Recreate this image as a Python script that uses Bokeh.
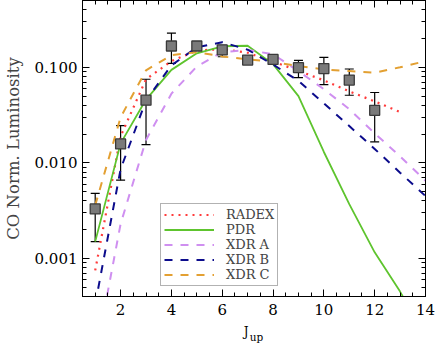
from bokeh.plotting import figure
from bokeh.models import (ColumnDataSource, Whisker, TeeHead, LogAxis, LinearAxis,
                          FixedTicker, CustomJSTickFormatter, Legend, LegendItem, Range1d)
from bokeh.embed import file_html
from bokeh.resources import INLINE

# observed CO SLED
J_obs = [1, 2, 3, 4, 5, 6, 7, 8, 9, 10, 11, 12]
L_obs = [0.0033, 0.0158, 0.0453, 0.167, 0.167, 0.152, 0.119, 0.121, 0.099, 0.097, 0.0735, 0.0355]
L_hi = [0.0048, 0.0245, 0.075, 0.228, 0.172, 0.170, 0.130, 0.126, 0.118, 0.127, 0.096, 0.0545]
L_lo = [0.0015, 0.0066, 0.0155, 0.110, 0.162, 0.129, 0.107, 0.116, 0.078, 0.066, 0.051, 0.0166]

# models
J_radex = [1, 2, 3, 4, 5, 6, 7, 8, 9, 10, 11, 12, 13]
radex = [0.00075, 0.019, 0.075, 0.116, 0.150, 0.155, 0.142, 0.115, 0.092, 0.073, 0.056, 0.044, 0.034]
J_mod = [1, 2, 3, 4, 5, 6, 7, 8, 9, 10, 11, 12, 13, 14]
pdr = [0.0015, 0.016, 0.046, 0.094, 0.140, 0.166, 0.168, 0.108, 0.050, 0.013, 0.0037, 0.00116, 0.00045, 0.00015]
xdr_a = [0.00009, 0.0023, 0.0174, 0.053, 0.102, 0.144, 0.152, 0.137, 0.091, 0.059, 0.0365, 0.0204, 0.0117, 0.0065]
xdr_b = [0.00033, 0.0086, 0.045, 0.105, 0.162, 0.183, 0.153, 0.107, 0.072, 0.042, 0.0243, 0.0140, 0.0079, 0.0045]
xdr_c = [0.0036, 0.030, 0.093, 0.134, 0.144, 0.130, 0.121, 0.114, 0.103, 0.095, 0.0915, 0.088, 0.100, 0.116]

x_major = [2, 4, 6, 8, 10, 12, 14]
y_major = [0.001, 0.01, 0.1]
y_labels = {0.001: "0.001", 0.01: "0.010", 0.1: "0.100"}

FONT = "DejaVu Serif"

p = figure(width=436, height=346, output_backend="svg", toolbar_location=None,
           y_axis_type="log", x_range=Range1d(0.5, 14), y_range=Range1d(0.0004, 0.5),
           min_border_left=78, min_border_right=11, min_border_top=0, min_border_bottom=50)
p.grid.visible = False
p.outline_line_color = "black"
p.background_fill_color = "white"
p.border_fill_color = "white"

x_minor = [v / 2 for v in range(1, 29)]
y_minor = [m * 10.0 ** e for e in range(-4, 0) for m in range(2, 10)]

xt = FixedTicker(ticks=x_major, minor_ticks=x_minor)
yt = FixedTicker(ticks=y_major, minor_ticks=y_minor)

def style_axis(ax, show_labels):
    ax.major_tick_in = 7
    ax.major_tick_out = 0
    ax.minor_tick_in = 4
    ax.minor_tick_out = 0
    ax.axis_line_color = "black"
    ax.major_tick_line_color = "black"
    ax.minor_tick_line_color = "black"
    ax.major_label_text_font = FONT
    ax.major_label_text_font_size = "15px"
    ax.major_label_text_color = "black"
    if not show_labels:
        ax.formatter = CustomJSTickFormatter(code="return '';")
        ax.major_label_standoff = 0

xa = p.xaxis[0]
xa.ticker = xt
style_axis(xa, True)
xa.major_label_standoff = 7

ya = p.yaxis[0]
ya.ticker = yt
ya.major_label_overrides = y_labels
style_axis(ya, True)
ya.major_label_standoff = 5
ya.axis_label = "CO Norm. Luminosity"
ya.axis_label_text_font = FONT
ya.axis_label_text_font_size = "16.5px"
ya.axis_label_text_font_style = "normal"
ya.axis_label_standoff = 9

top = LinearAxis(ticker=xt)
style_axis(top, False)
p.add_layout(top, "above")
right = LogAxis(ticker=yt)
style_axis(right, False)
p.add_layout(right, "right")

# x-axis title "J_up": J and the subscript as label-only axes below the main one
def label_axis(pos, text, size, standoff):
    ax = LinearAxis(ticker=FixedTicker(ticks=[pos], minor_ticks=[]),
                    formatter=CustomJSTickFormatter(code="return '%s';" % text))
    ax.axis_line_color = None
    ax.major_tick_line_color = None
    ax.minor_tick_line_color = None
    ax.major_tick_in = 0
    ax.major_tick_out = 0
    ax.minor_tick_in = 0
    ax.minor_tick_out = 0
    ax.major_label_text_font = FONT
    ax.major_label_text_font_size = size
    ax.major_label_text_color = "black"
    ax.major_label_standoff = standoff
    p.add_layout(ax, "below")

label_axis(6.94, "J", "12px", 7)
label_axis(7.35, "up", "10.5px", -11)

# error bars
obs = ColumnDataSource(dict(x=J_obs, y=L_obs, upper=L_hi, lower=L_lo))
wh = Whisker(base="x", upper="upper", lower="lower", source=obs, level="underlay",
             line_color="black", line_width=1.2,
             upper_head=TeeHead(size=9, line_color="black", line_width=1.2),
             lower_head=TeeHead(size=9, line_color="black", line_width=1.2))
p.add_layout(wh)

r_radex = p.line(J_radex, radex, line_color="#ff3b3b", line_width=2.2, line_dash="2 5")
r_pdr = p.line(J_mod, pdr, line_color="#5ec42e", line_width=1.8)
r_a = p.line(J_mod, xdr_a, line_color="#cf8ff0", line_width=2, line_dash="8 8")
r_b = p.line(J_mod, xdr_b, line_color="#0c0c8c", line_width=2, line_dash="8 8")
r_c = p.line(J_mod, xdr_c, line_color="#e3a032", line_width=2, line_dash="8 8")

p.scatter("x", "y", source=obs, marker="square", size=10, fill_color="#7a7a7a",
          line_color="#3a3a3a", line_width=1.3)

legend = Legend(items=[
    LegendItem(label="RADEX", renderers=[r_radex]),
    LegendItem(label="PDR", renderers=[r_pdr]),
    LegendItem(label="XDR A", renderers=[r_a]),
    LegendItem(label="XDR B", renderers=[r_b]),
    LegendItem(label="XDR C", renderers=[r_c]),
], location=(78, 10))
legend.label_text_font = FONT
legend.label_text_font_size = "13px"
legend.label_height = 15
legend.glyph_height = 15
legend.glyph_width = 50
legend.label_standoff = 12
legend.spacing = 0
legend.padding = 3
legend.margin = 0
legend.border_line_color = "#666666"
legend.border_line_width = 1
legend.background_fill_alpha = 1
p.add_layout(legend)

open("out.html", "w").write(file_html(p, INLINE))
